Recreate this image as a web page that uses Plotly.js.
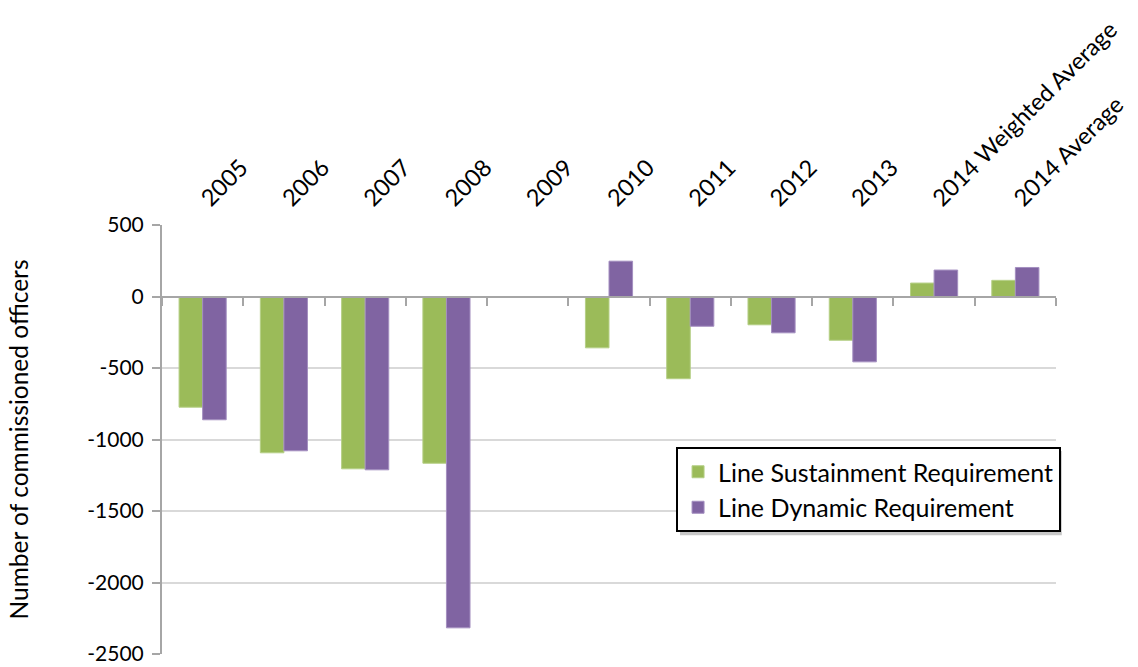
<!DOCTYPE html>
<html><head><meta charset="utf-8">
<script src="https://cdn.plot.ly/plotly-3.0.1.min.js"></script>
<style>html,body{margin:0;padding:0;background:#fff}#chart{width:1138px;height:667px}</style>
</head><body><div id="chart"></div>
<script>
const categories = ["2005","2006","2007","2008","2009","2010","2011","2012","2013","2014 Weighted Average","2014 Average"];
const sustainment = [-774,-1093,-1205,-1166,null,-359,-575,-198,-306,94,113];
const dynamic = [-862,-1079,-1212,-2317,null,247,-208,-254,-457,185,203];
const seriesNames = ["Line Sustainment Requirement","Line Dynamic Requirement"];
const yTickVals = [500,0,-500,-1000,-1500,-2000,-2500];
const yTickText = ["500","0","-500","-1000","-1500","-2000","-2500"];

const FONT = "Lato, 'Open Sans', sans-serif";
const traces = [
  {type:"bar", name:seriesNames[0], x:categories, y:sustainment, marker:{color:"#9bbb59", line:{color:"#b5cf86", width:1}}, xaxis:"x", yaxis:"y"},
  {type:"bar", name:seriesNames[1], x:categories, y:dynamic, marker:{color:"#8064a2", line:{color:"#a48fc0", width:1}}, xaxis:"x", yaxis:"y"},
  {type:"scatter", x:categories, y:categories.map(()=>null), xaxis:"x2", yaxis:"y", showlegend:false, hoverinfo:"skip"}
];
const layout = {
  width:1138, height:667,
  margin:{l:162, r:82, t:225, b:13},
  paper_bgcolor:"#fff", plot_bgcolor:"#fff",
  font:{family:FONT, size:20, color:"#000"},
  barmode:"group", bargap:0.42, bargroupgap:0,
  showlegend:true,
  legend:{x:0.575, y:0.4825, xanchor:"left", yanchor:"top", bgcolor:"#fff", bordercolor:"#000", borderwidth:2,
    font:{family:FONT, size:25, color:"#000"}, itemwidth:30},
  xaxis:{type:"category", side:"top", tickangle:-45, showgrid:false, showline:false, ticks:"", zeroline:false,
    ticklabelstandoff:8,
    tickfont:{family:FONT, size:23.5, color:"#000"}, range:[-0.5,10.5]},
  xaxis2:{type:"category", overlaying:"x", anchor:"free", position:2500/3000, showline:true, linecolor:"#a6a6a6", linewidth:2,
    ticks:"outside", tickson:"boundaries", ticklen:8, tickcolor:"#a6a6a6", tickwidth:2, showticklabels:false, showgrid:false, zeroline:false, range:[-0.5,10.5]},
  yaxis:{range:[-2500,500], tickmode:"array", tickvals:yTickVals, ticktext:yTickText, showgrid:true, gridcolor:"#d9d9d9", gridwidth:2, zeroline:false,
    showline:true, linecolor:"#a6a6a6", linewidth:2, ticks:"outside", ticklen:8, tickcolor:"#a6a6a6", tickwidth:2,
    ticklabelstandoff:4,
    tickfont:{family:FONT, size:21, color:"#000"},
    title:{text:"Number of commissioned officers", font:{family:FONT, size:24.5, color:"#000"}, standoff:52}},
  shapes:[
    {type:"rect", xref:"paper", yref:"paper", x0:0.5794, x1:1.0065, y0:0.277, y1:0.473, fillcolor:"rgba(0,0,0,0.22)", line:{width:0}, layer:"above"}
  ]
};
Plotly.newPlot("chart", traces, layout, {displayModeBar:false, staticPlot:true});
</script></body></html>
